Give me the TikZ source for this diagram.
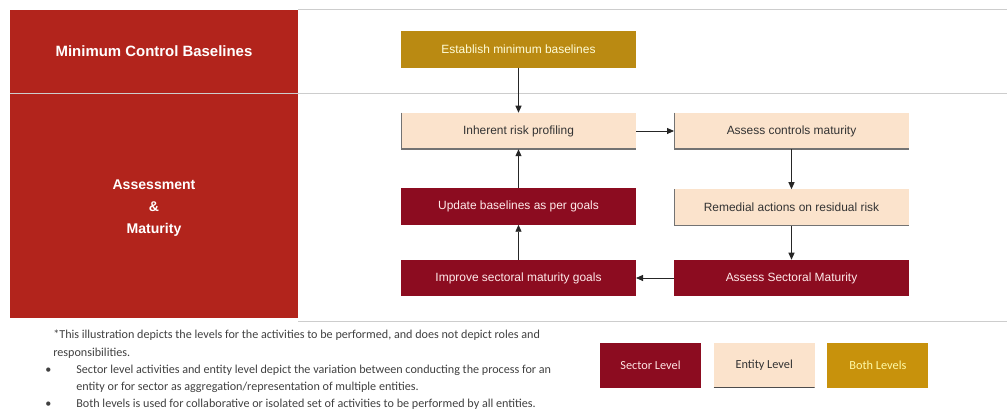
\documentclass[tikz,border=0pt]{standalone}
\usepackage{fontspec}
\setmainfont{Liberation Sans}
\newfontfamily\notefont{Carlito}
\usepackage{xcolor}
\usepackage{tikz}
\usetikzlibrary{positioning,calc,arrows.meta}

\definecolor{panelred}{RGB}{178,36,28}
\definecolor{sectorred}{RGB}{140,12,32}
\definecolor{entitypeach}{RGB}{251,227,204}
\definecolor{bothgold}{RGB}{186,138,18}
\definecolor{legendgold}{RGB}{200,146,12}
\definecolor{rulegray}{RGB}{205,205,205}

\begin{document}
\begin{tikzpicture}[
    stage/.style={minimum width=4.7cm, minimum height=0.73cm, inner sep=0pt, outer sep=0pt,
        font=\fontsize{6.8}{8}\selectfont},
    sectorbox/.style={stage, fill=sectorred, text=white!92!red},
    entitybox/.style={stage, fill=entitypeach, text=black!80,
        path picture={\draw[line width=1.4pt, black!55]
            (path picture bounding box.north west) -- (path picture bounding box.south west)
            -- (path picture bounding box.south east);}},
    bothbox/.style={stage, fill=bothgold, text=yellow!15},
    legendkey/.style={minimum width=2.02cm, minimum height=0.9cm, inner sep=0pt,
        font=\notefont\fontsize{7}{8}\selectfont},
    flow/.style={-{Triangle[length=1.4mm,width=1.2mm]}, line width=0.5pt, black!85}
]
    \useasboundingbox (0,0) rectangle (20.14,8.32);

    % left panel
    \fill [panelred] (0.2,1.96) rectangle (5.96,8.12);
    \draw [rulegray] (5.96,8.14) -- (20.14,8.14);
    \draw [rulegray] (0.2,6.46) -- (20.14,6.46);
    \draw [rulegray] (5.96,1.9) -- (20.14,1.9);
    \node (mincb) [text=white, font=\bfseries\fontsize{8.5}{10}\selectfont] at (3.08,7.3) {Minimum Control Baselines};
    \node (assmat) [text=white, font=\bfseries\fontsize{8}{12.5}\selectfont, align=center] at (3.08,4.16)
        {Assessment\\\&\\Maturity};

    % process boxes
    \node (inherent) [entitybox] at (10.37,5.7) {Inherent risk profiling};
    \node (establish) [bothbox, above=0.9cm of inherent] {Establish minimum baselines};
    \node (update) [sectorbox, below=0.78cm of inherent] {Update baselines as per goals};
    \node (improve) [sectorbox, below=0.7cm of update] {Improve sectoral maturity goals};
    \node (assessctl) [entitybox, right=0.76cm of inherent] {Assess controls maturity};
    \node (remedial) [entitybox, below=0.8cm of assessctl] {Remedial actions on residual risk};
    \node (sectoral) [sectorbox, below=0.68cm of remedial] {Assess Sectoral Maturity};

    \draw [flow] (establish) -- (inherent);
    \draw [flow] (inherent) -- (assessctl);
    \draw [flow] (assessctl) -- (remedial);
    \draw [flow] (remedial) -- (sectoral);
    \draw [flow] (sectoral) -- (improve);
    \draw [flow] (improve) -- (update);
    \draw [flow] (update) -- (inherent);

    % footnote
    \node (note) [anchor=north west, align=left, inner sep=0pt, text=black!75,
        font=\notefont\fontsize{6.9}{9.8}\selectfont] at (1.06,1.72)
        {*This illustration depicts the levels for the activities to be performed, and does not depict roles and\\
         responsibilities.\\
         \makebox[0.46cm][l]{\hspace{-0.16cm}\textbullet}Sector level activities and entity level depict the variation between conducting the process for an\\
         \makebox[0.46cm][l]{}entity or for sector as aggregation/representation of multiple entities.\\
         \makebox[0.46cm][l]{\hspace{-0.16cm}\textbullet}Both levels is used for collaborative or isolated set of activities to be performed by all entities.};

    % legend
    \node (keysector) [legendkey, fill=sectorred, text=white!90!red] at (13.01,1.01) {Sector Level};
    \node (keyentity) [legendkey, fill=entitypeach, text=black!80, right=0.24cm of keysector,
        path picture={\draw[line width=1.2pt, black!70]
            (path picture bounding box.south west) -- (path picture bounding box.south east);}] {Entity Level};
    \node (keyboth) [legendkey, fill=legendgold, text=yellow!35, right=0.24cm of keyentity] {Both Levels};
\end{tikzpicture}
\end{document}
